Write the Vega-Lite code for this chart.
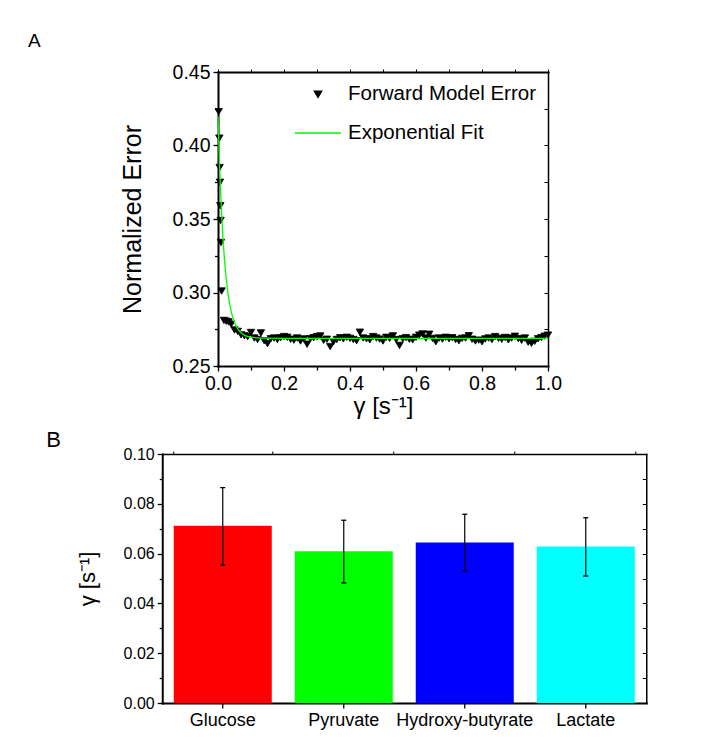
{
  "$schema": "https://vega.github.io/schema/vega-lite/v6.json",
  "background": "white",
  "padding": {"left": 28, "top": 32, "right": 5, "bottom": 5},
  "config": {
    "view": {"stroke": null},
    "font": "Liberation Sans",
    "axis": {"labelColor": "black", "titleColor": "black", "tickColor": "black", "domainColor": "black", "grid": false, "labelFont": "Liberation Sans", "titleFont": "Liberation Sans", "titleFontWeight": "normal", "domainCap": "square", "labelOverlap": false},
    "legend": {"labelFont": "Liberation Sans", "labelColor": "black"},
    "title": {"font": "Liberation Sans", "fontWeight": "normal", "color": "black"}
  },
  "datasets": {
    "errors": [
      {"gamma": 0.002, "err": 0.423, "series": "Forward Model Error"},
      {"gamma": 0.004, "err": 0.405, "series": "Forward Model Error"},
      {"gamma": 0.005, "err": 0.385, "series": "Forward Model Error"},
      {"gamma": 0.006, "err": 0.375, "series": "Forward Model Error"},
      {"gamma": 0.007, "err": 0.359, "series": "Forward Model Error"},
      {"gamma": 0.008, "err": 0.349, "series": "Forward Model Error"},
      {"gamma": 0.009, "err": 0.334, "series": "Forward Model Error"},
      {"gamma": 0.011, "err": 0.301, "series": "Forward Model Error"},
      {"gamma": 0.018, "err": 0.281, "series": "Forward Model Error"},
      {"gamma": 0.025, "err": 0.2805, "series": "Forward Model Error"},
      {"gamma": 0.032, "err": 0.28, "series": "Forward Model Error"},
      {"gamma": 0.04, "err": 0.2785, "series": "Forward Model Error"},
      {"gamma": 0.05, "err": 0.2745, "series": "Forward Model Error"},
      {"gamma": 0.06, "err": 0.2735, "series": "Forward Model Error"},
      {"gamma": 0.07, "err": 0.2712, "series": "Forward Model Error"},
      {"gamma": 0.08, "err": 0.2705, "series": "Forward Model Error"},
      {"gamma": 0.09, "err": 0.27, "series": "Forward Model Error"},
      {"gamma": 0.1, "err": 0.2728, "series": "Forward Model Error"},
      {"gamma": 0.11, "err": 0.269, "series": "Forward Model Error"},
      {"gamma": 0.12, "err": 0.268, "series": "Forward Model Error"},
      {"gamma": 0.13, "err": 0.2725, "series": "Forward Model Error"},
      {"gamma": 0.14, "err": 0.2672, "series": "Forward Model Error"},
      {"gamma": 0.15, "err": 0.2652, "series": "Forward Model Error"},
      {"gamma": 0.16, "err": 0.2685, "series": "Forward Model Error"},
      {"gamma": 0.17, "err": 0.269, "series": "Forward Model Error"},
      {"gamma": 0.18, "err": 0.268, "series": "Forward Model Error"},
      {"gamma": 0.19, "err": 0.2692, "series": "Forward Model Error"},
      {"gamma": 0.2, "err": 0.27, "series": "Forward Model Error"},
      {"gamma": 0.21, "err": 0.2695, "series": "Forward Model Error"},
      {"gamma": 0.22, "err": 0.2682, "series": "Forward Model Error"},
      {"gamma": 0.23, "err": 0.2676, "series": "Forward Model Error"},
      {"gamma": 0.24, "err": 0.269, "series": "Forward Model Error"},
      {"gamma": 0.25, "err": 0.267, "series": "Forward Model Error"},
      {"gamma": 0.26, "err": 0.2684, "series": "Forward Model Error"},
      {"gamma": 0.27, "err": 0.2648, "series": "Forward Model Error"},
      {"gamma": 0.28, "err": 0.2686, "series": "Forward Model Error"},
      {"gamma": 0.29, "err": 0.2692, "series": "Forward Model Error"},
      {"gamma": 0.3, "err": 0.27, "series": "Forward Model Error"},
      {"gamma": 0.31, "err": 0.2704, "series": "Forward Model Error"},
      {"gamma": 0.32, "err": 0.2675, "series": "Forward Model Error"},
      {"gamma": 0.33, "err": 0.2682, "series": "Forward Model Error"},
      {"gamma": 0.34, "err": 0.2632, "series": "Forward Model Error"},
      {"gamma": 0.35, "err": 0.2665, "series": "Forward Model Error"},
      {"gamma": 0.36, "err": 0.268, "series": "Forward Model Error"},
      {"gamma": 0.37, "err": 0.2692, "series": "Forward Model Error"},
      {"gamma": 0.38, "err": 0.2685, "series": "Forward Model Error"},
      {"gamma": 0.39, "err": 0.2695, "series": "Forward Model Error"},
      {"gamma": 0.4, "err": 0.2688, "series": "Forward Model Error"},
      {"gamma": 0.41, "err": 0.268, "series": "Forward Model Error"},
      {"gamma": 0.42, "err": 0.2672, "series": "Forward Model Error"},
      {"gamma": 0.43, "err": 0.273, "series": "Forward Model Error"},
      {"gamma": 0.44, "err": 0.269, "series": "Forward Model Error"},
      {"gamma": 0.45, "err": 0.2685, "series": "Forward Model Error"},
      {"gamma": 0.46, "err": 0.2678, "series": "Forward Model Error"},
      {"gamma": 0.47, "err": 0.27, "series": "Forward Model Error"},
      {"gamma": 0.48, "err": 0.269, "series": "Forward Model Error"},
      {"gamma": 0.49, "err": 0.2683, "series": "Forward Model Error"},
      {"gamma": 0.5, "err": 0.267, "series": "Forward Model Error"},
      {"gamma": 0.51, "err": 0.2695, "series": "Forward Model Error"},
      {"gamma": 0.52, "err": 0.2688, "series": "Forward Model Error"},
      {"gamma": 0.53, "err": 0.2705, "series": "Forward Model Error"},
      {"gamma": 0.54, "err": 0.268, "series": "Forward Model Error"},
      {"gamma": 0.55, "err": 0.264, "series": "Forward Model Error"},
      {"gamma": 0.56, "err": 0.2685, "series": "Forward Model Error"},
      {"gamma": 0.57, "err": 0.2693, "series": "Forward Model Error"},
      {"gamma": 0.58, "err": 0.2682, "series": "Forward Model Error"},
      {"gamma": 0.59, "err": 0.2678, "series": "Forward Model Error"},
      {"gamma": 0.6, "err": 0.2695, "series": "Forward Model Error"},
      {"gamma": 0.61, "err": 0.271, "series": "Forward Model Error"},
      {"gamma": 0.62, "err": 0.2718, "series": "Forward Model Error"},
      {"gamma": 0.63, "err": 0.269, "series": "Forward Model Error"},
      {"gamma": 0.64, "err": 0.2716, "series": "Forward Model Error"},
      {"gamma": 0.65, "err": 0.2688, "series": "Forward Model Error"},
      {"gamma": 0.66, "err": 0.2665, "series": "Forward Model Error"},
      {"gamma": 0.67, "err": 0.269, "series": "Forward Model Error"},
      {"gamma": 0.68, "err": 0.2683, "series": "Forward Model Error"},
      {"gamma": 0.69, "err": 0.2695, "series": "Forward Model Error"},
      {"gamma": 0.7, "err": 0.2685, "series": "Forward Model Error"},
      {"gamma": 0.71, "err": 0.2692, "series": "Forward Model Error"},
      {"gamma": 0.72, "err": 0.268, "series": "Forward Model Error"},
      {"gamma": 0.73, "err": 0.2672, "series": "Forward Model Error"},
      {"gamma": 0.74, "err": 0.2688, "series": "Forward Model Error"},
      {"gamma": 0.75, "err": 0.269, "series": "Forward Model Error"},
      {"gamma": 0.76, "err": 0.2706, "series": "Forward Model Error"},
      {"gamma": 0.77, "err": 0.2682, "series": "Forward Model Error"},
      {"gamma": 0.78, "err": 0.267, "series": "Forward Model Error"},
      {"gamma": 0.79, "err": 0.2676, "series": "Forward Model Error"},
      {"gamma": 0.8, "err": 0.2665, "series": "Forward Model Error"},
      {"gamma": 0.81, "err": 0.2684, "series": "Forward Model Error"},
      {"gamma": 0.82, "err": 0.269, "series": "Forward Model Error"},
      {"gamma": 0.83, "err": 0.268, "series": "Forward Model Error"},
      {"gamma": 0.84, "err": 0.27, "series": "Forward Model Error"},
      {"gamma": 0.85, "err": 0.2688, "series": "Forward Model Error"},
      {"gamma": 0.86, "err": 0.2682, "series": "Forward Model Error"},
      {"gamma": 0.87, "err": 0.2694, "series": "Forward Model Error"},
      {"gamma": 0.88, "err": 0.2678, "series": "Forward Model Error"},
      {"gamma": 0.89, "err": 0.269, "series": "Forward Model Error"},
      {"gamma": 0.9, "err": 0.2702, "series": "Forward Model Error"},
      {"gamma": 0.91, "err": 0.2686, "series": "Forward Model Error"},
      {"gamma": 0.92, "err": 0.2675, "series": "Forward Model Error"},
      {"gamma": 0.93, "err": 0.269, "series": "Forward Model Error"},
      {"gamma": 0.94, "err": 0.2662, "series": "Forward Model Error"},
      {"gamma": 0.95, "err": 0.2655, "series": "Forward Model Error"},
      {"gamma": 0.96, "err": 0.2668, "series": "Forward Model Error"},
      {"gamma": 0.97, "err": 0.2685, "series": "Forward Model Error"},
      {"gamma": 0.98, "err": 0.2693, "series": "Forward Model Error"},
      {"gamma": 0.99, "err": 0.2703, "series": "Forward Model Error"},
      {"gamma": 1.0, "err": 0.271, "series": "Forward Model Error"}
    ],
    "fit": [
      {"gamma": 0, "err": 0.4198},
      {"gamma": 0.005, "err": 0.3849},
      {"gamma": 0.01, "err": 0.358},
      {"gamma": 0.015, "err": 0.3374},
      {"gamma": 0.02, "err": 0.3215},
      {"gamma": 0.025, "err": 0.3093},
      {"gamma": 0.03, "err": 0.2999},
      {"gamma": 0.035, "err": 0.2927},
      {"gamma": 0.04, "err": 0.2872},
      {"gamma": 0.05, "err": 0.2797},
      {"gamma": 0.06, "err": 0.2752},
      {"gamma": 0.07, "err": 0.2726},
      {"gamma": 0.08, "err": 0.271},
      {"gamma": 0.09, "err": 0.2701},
      {"gamma": 0.1, "err": 0.2696},
      {"gamma": 0.12, "err": 0.2691},
      {"gamma": 0.15, "err": 0.2689},
      {"gamma": 0.2, "err": 0.2688},
      {"gamma": 0.4, "err": 0.2688},
      {"gamma": 0.6, "err": 0.2688},
      {"gamma": 0.8, "err": 0.2688},
      {"gamma": 1.0, "err": 0.2688}
    ],
    "bars": [
      {"substrate": "Glucose", "gamma": 0.0712, "lo": 0.0554, "hi": 0.0865},
      {"substrate": "Pyruvate", "gamma": 0.0609, "lo": 0.0482, "hi": 0.0734},
      {"substrate": "Hydroxy-butyrate", "gamma": 0.0645, "lo": 0.053, "hi": 0.0758},
      {"substrate": "Lactate", "gamma": 0.0629, "lo": 0.051, "hi": 0.0744}
    ]
  },
  "vconcat": [
    {
      "hconcat": [
        {
          "width": 330,
          "height": 294,
          "title": {"text": "A", "anchor": "start", "frame": "group", "dx": -190, "offset": 11, "fontSize": 19},
          "layer": [
            {
              "data": {"name": "errors"},
              "mark": {"type": "point", "filled": true, "opacity": 1, "strokeWidth": 0.8},
              "encoding": {
                "x": {"field": "gamma", "type": "quantitative", "scale": {"domain": [0, 1], "nice": false, "zero": false},
                  "axis": {"orient": "bottom", "values": [0, 0.1, 0.2, 0.3, 0.4, 0.5, 0.6, 0.7, 0.8, 0.9, 1],
                    "labelExpr": "round(datum.value*10) % 2 == 0 ? format(datum.value, '.1f') : ''",
                    "tickSize": {"condition": {"test": "round(datum.value*10) % 2 == 0", "value": 5}, "value": 4},
                    "tickWidth": 1.3, "domainWidth": 2, "labelFontSize": 19.5, "labelPadding": 3, "labelFlush": false,
                    "title": "γ  [s⁻¹]", "titleFontSize": 24, "titlePadding": 2}},
                "y": {"field": "err", "type": "quantitative", "scale": {"domain": [0.25, 0.45], "nice": false, "zero": false},
                  "axis": {"orient": "left", "values": [0.25, 0.275, 0.3, 0.325, 0.35, 0.375, 0.4, 0.425, 0.45],
                    "labelExpr": "round(datum.value*1000) % 50 == 0 ? format(datum.value, '.2f') : ''",
                    "tickSize": {"condition": {"test": "round(datum.value*1000) % 50 == 0", "value": 5}, "value": 3.5},
                    "tickWidth": 1.3, "domainWidth": 2, "labelFontSize": 19.5, "labelPadding": 3,
                    "title": "Normalized Error", "titleFontSize": 25, "titlePadding": 27}},
                "shape": {"field": "series", "type": "nominal",
                  "scale": {"domain": ["Forward Model Error", "Exponential Fit"], "range": ["triangle-down", "stroke"]},
                  "legend": {"title": null, "orient": "top-right", "offset": 12, "padding": 0, "labelFontSize": 20.5, "labelLimit": 400, "labelOffset": 6, "rowPadding": 4, "symbolStrokeWidth": 1.3}},
                "fill": {"field": "series", "type": "nominal",
                  "scale": {"domain": ["Forward Model Error", "Exponential Fit"], "range": ["black", "transparent"]},
                  "legend": {"title": null, "orient": "top-right", "offset": 12, "padding": 0, "labelFontSize": 20.5, "labelLimit": 400, "labelOffset": 6, "rowPadding": 4, "symbolStrokeWidth": 1.3}},
                "stroke": {"field": "series", "type": "nominal",
                  "scale": {"domain": ["Forward Model Error", "Exponential Fit"], "range": ["black", "#00ff00"]},
                  "legend": {"title": null, "orient": "top-right", "offset": 12, "padding": 0, "labelFontSize": 20.5, "labelLimit": 400, "labelOffset": 6, "rowPadding": 4, "symbolStrokeWidth": 1.3}},
                "size": {"field": "series", "type": "nominal",
                  "scale": {"type": "point", "padding": 0, "domain": ["Forward Model Error", "Exponential Fit"], "range": [55, 2116]},
                  "legend": {"title": null, "orient": "top-right", "offset": 12, "padding": 0, "labelFontSize": 20.5, "labelLimit": 400, "labelOffset": 6, "rowPadding": 4, "symbolStrokeWidth": 1.3}}
              }
            },
            {
              "data": {"name": "fit"},
              "mark": {"type": "line", "color": "#00ff00", "strokeWidth": 1.3, "interpolate": "monotone"},
              "encoding": {
                "x": {"field": "gamma", "type": "quantitative",
                  "axis": {"orient": "top", "values": [0, 0.1, 0.2, 0.3, 0.4, 0.5, 0.6, 0.7, 0.8, 0.9, 1], "labels": false, "tickSize": 3, "tickWidth": 1, "domainWidth": 2, "title": null}},
                "y": {"field": "err", "type": "quantitative",
                  "axis": {"orient": "right", "values": [0.25, 0.275, 0.3, 0.325, 0.35, 0.375, 0.4, 0.425, 0.45], "labels": false, "tickSize": -4, "tickWidth": 1, "domainWidth": 1.5, "title": null}}
              }
            }
          ],
          "resolve": {"axis": {"x": "independent", "y": "independent"}}
        },
        {
          "width": 9,
          "height": 1,
          "data": {"values": []},
          "mark": "point"
        }
      ],
      "spacing": 20,
      "resolve": {
        "scale": {"shape": "independent", "fill": "independent", "stroke": "independent", "size": "independent"},
        "legend": {"shape": "independent", "fill": "independent", "stroke": "independent", "size": "independent"}
      }
    },
    {
      "width": 484,
      "height": 249,
      "title": {"text": "B", "anchor": "start", "frame": "group", "dx": -116, "offset": -6, "fontSize": 22},
      "data": {"name": "bars"},
      "layer": [
        {
          "mark": {"type": "bar", "opacity": 1},
          "encoding": {
            "x": {"field": "substrate", "type": "nominal",
              "scale": {"domain": ["Glucose", "Pyruvate", "Hydroxy-butyrate", "Lactate"], "paddingInner": 0.19, "paddingOuter": 0.095},
              "axis": {"orient": "bottom", "labelAngle": 0, "labelFontSize": 18, "labelPadding": 3, "tickSize": 5, "tickWidth": 1.3, "domainWidth": 2, "title": null}},
            "y": {"field": "gamma", "type": "quantitative", "scale": {"domain": [0, 0.1], "nice": false, "zero": false},
              "axis": {"orient": "left", "values": [0, 0.01, 0.02, 0.03, 0.04, 0.05, 0.06, 0.07, 0.08, 0.09, 0.1],
                "labelExpr": "round(datum.value*100) % 2 == 0 ? format(datum.value, '.2f') : ''",
                "tickSize": {"condition": {"test": "round(datum.value*100) % 2 == 0", "value": 5}, "value": 3},
                "tickWidth": 1.3, "domainWidth": 2, "labelFontSize": 16, "labelPadding": 3,
                "title": "γ [s⁻¹]", "titleFontSize": 22, "titlePadding": 24}},
            "color": {"field": "substrate", "type": "nominal",
              "scale": {"domain": ["Glucose", "Pyruvate", "Hydroxy-butyrate", "Lactate"], "range": ["#ff0000", "#00ff00", "#0000ff", "#00ffff"]},
              "legend": null}
          }
        },
        {
          "mark": {"type": "rule", "color": "black", "strokeWidth": 1.2},
          "encoding": {
            "x": {"field": "substrate", "type": "nominal",
              "axis": {"orient": "top", "labels": false, "tickBand": "extent", "tickSize": 3, "tickWidth": 1, "domainWidth": 1.5, "title": null}},
            "y": {"field": "lo", "type": "quantitative",
              "axis": {"orient": "right", "values": [0, 0.01, 0.02, 0.03, 0.04, 0.05, 0.06, 0.07, 0.08, 0.09, 0.1], "labels": false, "tickSize": -4, "tickWidth": 1, "domainWidth": 1.5, "title": null}},
            "y2": {"field": "hi"}
          }
        },
        {
          "mark": {"type": "tick", "color": "black", "opacity": 1, "size": 5, "thickness": 1.3, "orient": "horizontal"},
          "encoding": {
            "x": {"field": "substrate", "type": "nominal", "axis": null},
            "y": {"field": "lo", "type": "quantitative", "axis": null}
          }
        },
        {
          "mark": {"type": "tick", "color": "black", "opacity": 1, "size": 5, "thickness": 1.3, "orient": "horizontal"},
          "encoding": {
            "x": {"field": "substrate", "type": "nominal", "axis": null},
            "y": {"field": "hi", "type": "quantitative", "axis": null}
          }
        }
      ],
      "resolve": {"axis": {"x": "independent", "y": "independent"}}
    }
  ],
  "spacing": 10,
  "center": true,
  "resolve": {
    "scale": {"shape": "independent", "fill": "independent", "stroke": "independent", "size": "independent", "color": "independent"},
    "legend": {"shape": "independent", "fill": "independent", "stroke": "independent", "size": "independent", "color": "independent"}
  }
}
